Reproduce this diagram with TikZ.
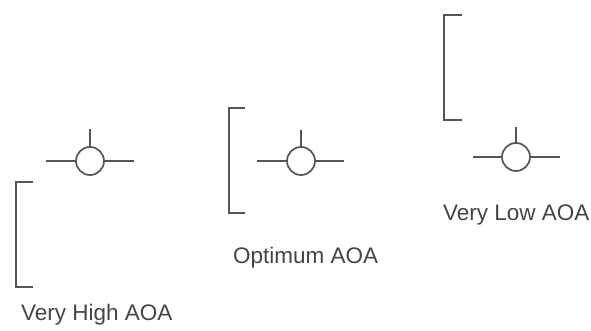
\documentclass[tikz,border=0pt]{standalone}
\usepackage{fontspec}
\setmainfont{Liberation Sans}
\definecolor{ink}{HTML}{555555}
\definecolor{txt}{HTML}{444444}
\begin{document}
\begin{tikzpicture}[x=1pt,y=-1pt,
  ln/.style={draw=ink,line width=1.7pt},
  ring/.style={circle,draw=ink,line width=1.7pt,minimum size=28pt,inner sep=0pt},
  lbl/.style={anchor=base west,inner sep=0pt,text=txt,font=\fontsize{22.5}{27}\selectfont}]
\useasboundingbox (0,0) rectangle (591,331);
% Very High AOA
\node[ring] (c1) at (90,161) {};
\coordinate (c1l) at (46,161);
\coordinate (c1r) at (134,161);
\coordinate (c1t) at (90,129);
\draw[ln] (c1l) -- (c1.west);
\draw[ln] (c1.east) -- (c1r);
\draw[ln] (c1.north) -- (c1t);
\draw[ln] (33,182) -- (16,182) -- (16,287) -- (33,287);
\node[lbl] (t1) at (21,320) {Very High AOA};
% Optimum AOA
\node[ring] (c2) at (301,161) {};
\coordinate (c2l) at (257,161);
\coordinate (c2r) at (344,161);
\coordinate (c2t) at (301,130);
\draw[ln] (c2l) -- (c2.west);
\draw[ln] (c2.east) -- (c2r);
\draw[ln] (c2.north) -- (c2t);
\draw[ln] (245,108) -- (229,108) -- (229,213) -- (245,213);
\node[lbl] (t2) at (233,263) {Optimum AOA};
% Very Low AOA
\node[ring] (c3) at (516,157) {};
\coordinate (c3l) at (473,157);
\coordinate (c3r) at (560,157);
\coordinate (c3t) at (516,127);
\draw[ln] (c3l) -- (c3.west);
\draw[ln] (c3.east) -- (c3r);
\draw[ln] (c3.north) -- (c3t);
\draw[ln] (462,15) -- (444,15) -- (444,120) -- (462,120);
\node[lbl] (t3) at (443,220) {Very Low AOA};
\end{tikzpicture}
\end{document}
